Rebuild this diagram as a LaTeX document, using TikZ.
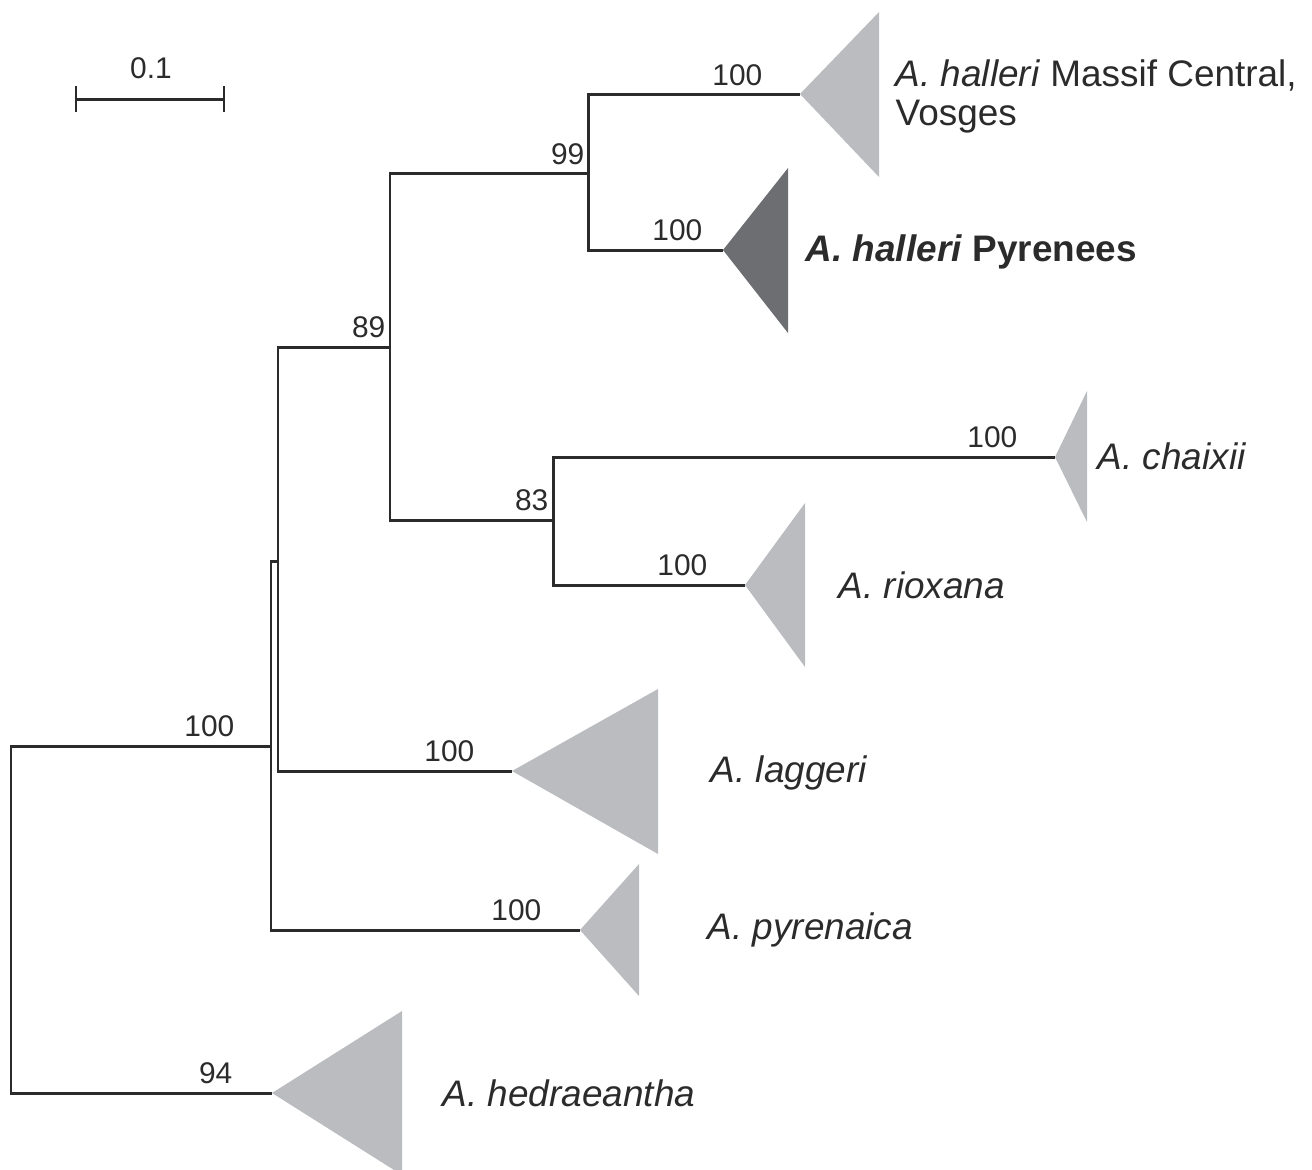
\documentclass[tikz,border=0pt]{standalone}
\usepackage{fontspec}
\setmainfont{Liberation Sans}
\definecolor{ink}{HTML}{2B2B2B}
\definecolor{cladegray}{HTML}{BBBCC0}
\definecolor{cladedark}{HTML}{6D6E71}
\begin{document}
\begin{tikzpicture}[x=0.01cm,y=-0.01cm,
  branch/.style={draw=ink,line width=0.85pt},
  clade/.style={fill=cladegray},
  boot/.style={font=\fontsize{8.5}{10}\selectfont,text=ink,inner sep=0pt,anchor=base east},
  taxon/.style={font=\fontsize{10.5}{12.6}\selectfont,text=ink,inner sep=0pt,anchor=base west}]
\useasboundingbox (0,0) rectangle (1312,1169);

% scale bar
\coordinate (sbl) at (76,99);
\coordinate (sbr) at (224,99);
\draw[branch] (sbl) -- (sbr);
\draw[branch] ([shift={(0,-13)}]sbl) -- ([shift={(0,13)}]sbl);
\draw[branch] ([shift={(0,-13)}]sbr) -- ([shift={(0,13)}]sbr);
\node[boot,anchor=base] (sblabel) at (151,78) {0.1};

% internal nodes
\coordinate (root) at (11,920);
\coordinate (nA) at (271,746);
\coordinate (nB) at (278,561);
\coordinate (nC) at (390,347);
\coordinate (nD) at (588,173);
\coordinate (nE) at (553,520);

% tips (apex of each collapsed clade)
\coordinate (mc) at (800,94);
\coordinate (pyn) at (723,250);
\coordinate (cha) at (1055,457);
\coordinate (rio) at (745,585);
\coordinate (lag) at (512,771);
\coordinate (pyr) at (580,930);
\coordinate (hed) at (272,1093);

% branches
\draw[branch] (root) |- (nA);
\draw[branch] (root) |- (hed);
\draw[branch] (nA) |- (nB);
\draw[branch] (nA) |- (pyr);
\draw[branch] (nB) |- (nC);
\draw[branch] (nB) |- (lag);
\draw[branch] (nC) |- (nD);
\draw[branch] (nC) |- (nE);
\draw[branch] (nD) |- (mc);
\draw[branch] (nD) |- (pyn);
\draw[branch] (nE) |- (cha);
\draw[branch] (nE) |- (rio);

% collapsed clades
\fill[clade] (mc) -- ++(79,-82) -- ++(0,165) -- cycle;
\fill[clade,fill=cladedark] (pyn) -- ++(65,-82) -- ++(0,165) -- cycle;
\fill[clade] (cha) -- ++(32,-66) -- ++(0,131) -- cycle;
\fill[clade] (rio) -- ++(60,-82) -- ++(0,164) -- cycle;
\fill[clade] (lag) -- ++(146,-82) -- ++(0,165) -- cycle;
\fill[clade] (pyr) -- ++(59,-66) -- ++(0,132) -- cycle;
\fill[clade] (hed) -- ++(130,-82) -- ++(0,164) -- cycle;

% bootstrap values
\node[boot] (bmc) at (763,85) {100};
\node[boot] (bnD) at (585,164) {99};
\node[boot] (bpyn) at (703,240) {100};
\node[boot] (bnC) at (386,337) {89};
\node[boot] (bcha) at (1018,447) {100};
\node[boot] (bnE) at (549,510) {83};
\node[boot] (brio) at (708,575) {100};
\node[boot] (bnA) at (235,736) {100};
\node[boot] (blag) at (475,761) {100};
\node[boot] (bpyr) at (542,920) {100};
\node[boot] (bhed) at (233,1083) {94};

% taxon labels
\node[taxon] (tmc) at (895,86) {\textit{A. halleri} Massif Central,};
\node[taxon] (tmcb) at (895,125) {Vosges};
\node[taxon,font=\fontsize{10.5}{12.6}\selectfont\bfseries] (tpyn) at (805,261) {\textit{A. halleri} Pyrenees};
\node[taxon] (tcha) at (1097,469) {\textit{A. chaixii}};
\node[taxon] (trio) at (838,598) {\textit{A. rioxana}};
\node[taxon] (tlag) at (710,782) {\textit{A. laggeri}};
\node[taxon] (tpyr) at (707,939) {\textit{A. pyrenaica}};
\node[taxon] (thed) at (442,1106) {\textit{A. hedraeantha}};
\end{tikzpicture}
\end{document}
